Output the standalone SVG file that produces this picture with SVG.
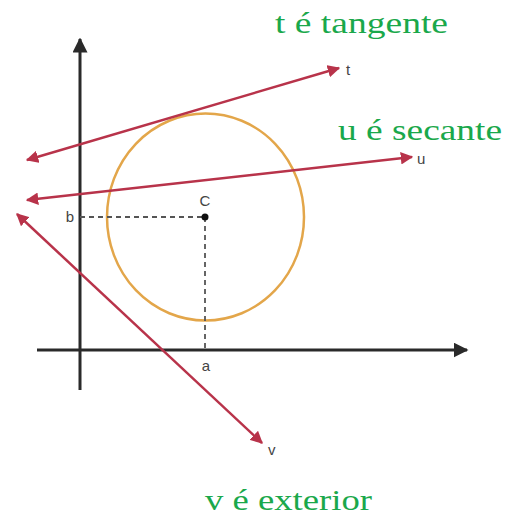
<svg xmlns="http://www.w3.org/2000/svg" width="508" height="520" viewBox="0 0 508 520">
<style>
.ax{stroke:#2a2a2a;stroke-width:3;fill:none}
.ln{stroke:#b8334a;stroke-width:2.5;fill:none}
.dash{stroke:#555;stroke-width:1.8;stroke-dasharray:5 4;fill:none}
.lbl{font-family:"Liberation Sans",Arial,sans-serif;font-size:15px;fill:#444}
.cap{font-family:"Liberation Serif","Times New Roman",serif;font-size:29px;fill:#1aa84b}
</style>
<defs>
<marker id="ah" viewBox="0 0 10 10" refX="9" refY="5" markerWidth="5" markerHeight="5" orient="auto-start-reverse" markerUnits="strokeWidth"><path d="M0,0 L10,5 L0,10 z" fill="#2a2a2a"/></marker>
<marker id="ar" viewBox="0 0 10 10" refX="9" refY="5" markerWidth="5" markerHeight="5" orient="auto-start-reverse" markerUnits="strokeWidth"><path d="M0,0 L10,5 L0,10 z" fill="#b8334a"/></marker>
</defs>
<rect width="508" height="520" fill="#fff"/>
<g id="axes">
<line class="ax" x1="80" y1="390" x2="80" y2="39" marker-end="url(#ah)"/>
<line class="ax" x1="37" y1="350" x2="467" y2="350" marker-end="url(#ah)"/>
</g>
<g id="circle">
<ellipse cx="205.5" cy="217" rx="98.5" ry="103.5" fill="none" stroke="#e3a64a" stroke-width="2.5"/>
</g>
<g id="guides">
<line class="dash" x1="80" y1="217" x2="205" y2="217"/>
<line class="dash" x1="205" y1="217" x2="205" y2="350"/>
<circle cx="205" cy="217" r="3.5" fill="#111"/>
<text class="lbl" x="205" y="206" text-anchor="middle">C</text>
<text class="lbl" x="70" y="222" text-anchor="middle">b</text>
<text class="lbl" x="206" y="371" text-anchor="middle">a</text>
</g>
<g id="connectors">
<line class="ln" x1="27" y1="160" x2="339" y2="68" marker-start="url(#ar)" marker-end="url(#ar)"/>
<line class="ln" x1="27" y1="200" x2="412" y2="157" marker-start="url(#ar)" marker-end="url(#ar)"/>
<line class="ln" x1="17" y1="214" x2="262" y2="443" marker-start="url(#ar)" marker-end="url(#ar)"/>
</g>
<g id="line-labels">
<text class="lbl" x="346" y="75">t</text>
<text class="lbl" x="417" y="164">u</text>
<text class="lbl" x="268" y="455">v</text>
</g>
<g id="captions">
<text class="cap" x="275" y="33" textLength="173" lengthAdjust="spacingAndGlyphs">t é tangente</text>
<text class="cap" x="338" y="140" textLength="164" lengthAdjust="spacingAndGlyphs">u é secante</text>
<text class="cap" x="205" y="510" textLength="167" lengthAdjust="spacingAndGlyphs">v é exterior</text>
</g>
</svg>
